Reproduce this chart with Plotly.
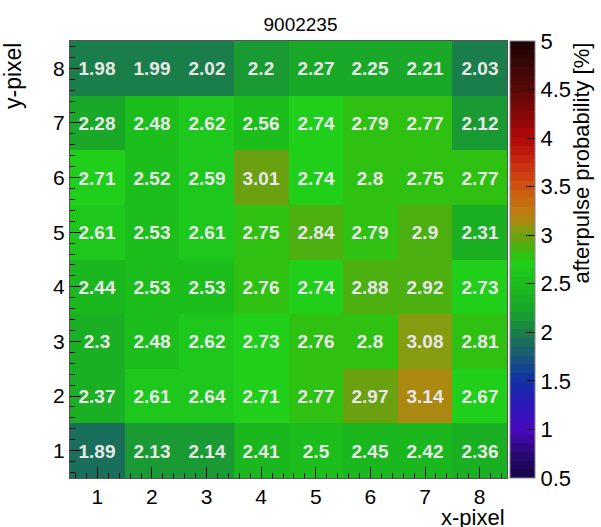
import plotly.graph_objects as go

# ---- data ----
x_pixels = [1, 2, 3, 4, 5, 6, 7, 8]
y_pixels = [1, 2, 3, 4, 5, 6, 7, 8]
# rows from y=1 (bottom) to y=8 (top)
row_y1 = [1.89, 2.13, 2.14, 2.41, 2.5, 2.45, 2.42, 2.36]
row_y2 = [2.37, 2.61, 2.64, 2.71, 2.77, 2.97, 3.14, 2.67]
row_y3 = [2.3, 2.48, 2.62, 2.73, 2.76, 2.8, 3.08, 2.81]
row_y4 = [2.44, 2.53, 2.53, 2.76, 2.74, 2.88, 2.92, 2.73]
row_y5 = [2.61, 2.53, 2.61, 2.75, 2.84, 2.79, 2.9, 2.31]
row_y6 = [2.71, 2.52, 2.59, 3.01, 2.74, 2.8, 2.75, 2.77]
row_y7 = [2.28, 2.48, 2.62, 2.56, 2.74, 2.79, 2.77, 2.12]
row_y8 = [1.98, 1.99, 2.02, 2.2, 2.27, 2.25, 2.21, 2.03]
z_values = [row_y1, row_y2, row_y3, row_y4, row_y5, row_y6, row_y7, row_y8]
cbar_ticks = [0.5, 1, 1.5, 2, 2.5, 3, 3.5, 4, 4.5, 5]
title_text = "9002235"

ZMIN, ZMAX, NBANDS = 0.5, 5.0, 50

# palette anchors (value, hex)
anchors = [
    (0.5, "#180448"), (0.75, "#2a0870"), (1.0, "#4a08c0"), (1.25, "#2c18b8"),
    (1.5, "#1030a8"), (1.75, "#1a5878"), (2.0, "#1a8048"), (2.25, "#1aa828"),
    (2.5, "#1cbc1c"), (2.7, "#1ed01a"), (2.8, "#30c012"), (2.97, "#6aa010"),
    (3.08, "#8a9a10"), (3.14, "#a88a10"), (3.25, "#c07a10"), (3.5, "#d05210"),
    (3.75, "#c82a10"), (4.0, "#b00808"), (4.5, "#5a0808"), (5.0, "#1a0404"),
]


def hex2rgb(h):
    h = h.lstrip("#")
    return [int(h[i:i + 2], 16) for i in (0, 2, 4)]


def color_at(v):
    for (v0, c0), (v1, c1) in zip(anchors[:-1], anchors[1:]):
        if v0 <= v <= v1:
            f = (v - v0) / (v1 - v0)
            a, b = hex2rgb(c0), hex2rgb(c1)
            r = [round(a[k] + (b[k] - a[k]) * f) for k in range(3)]
            return f"rgb({r[0]},{r[1]},{r[2]})"
    return anchors[-1][1]


colorscale = []
step = (ZMAX - ZMIN) / NBANDS
for i in range(NBANDS):
    c = color_at(ZMIN + (i + 0.5) * step)
    colorscale.append([i / NBANDS, c])
    colorscale.append([(i + 1) / NBANDS, c])

text_values = [[f"{v:g}" for v in row] for row in z_values]

FONT = "Liberation Sans, Arial, Helvetica, sans-serif"

fig = go.Figure(
    go.Heatmap(
        x=x_pixels, y=y_pixels, z=z_values,
        zmin=ZMIN, zmax=ZMAX, colorscale=colorscale,
        text=text_values, texttemplate="%{text}",
        textfont=dict(family=FONT, size=19, color="#e8e8e8", weight="bold"),
        hoverinfo="skip",
        colorbar=dict(
            x=1.007, xanchor="left", xref="paper",
            y=0.5, yanchor="middle", len=1.0, lenmode="fraction",
            thickness=25, outlinewidth=1, outlinecolor="#888888",
            tickvals=cbar_ticks, ticktext=[f"{t:g}" for t in cbar_ticks],
            ticks="inside", ticklen=9, tickcolor="#000000", tickwidth=1,
            tickfont=dict(family=FONT, size=22, color="#000000"),
            xpad=0, ypad=0,
        ),
    )
)

axis_common = dict(
    range=[0.5, 8.5], tickmode="array", tickvals=x_pixels,
    ticks="inside", ticklen=11, tickwidth=1, tickcolor="#000000",
    minor=dict(dtick=0.2, tick0=0, ticks="inside", ticklen=5,
               tickwidth=1, tickcolor="#000000"),
    showline=True, linecolor="#555555", linewidth=1, mirror=True,
    showgrid=False, zeroline=False,
    tickfont=dict(family=FONT, size=21, color="#000000"),
)

fig.update_layout(
    width=601, height=527,
    margin=dict(l=70, r=94, t=41, b=49),
    paper_bgcolor="white", plot_bgcolor="white",
    xaxis=dict(**axis_common),
    yaxis=dict(**axis_common),
    title=dict(text=title_text, x=0.5, xref="container", xanchor="center",
               y=1 - 24 / 527, yanchor="middle",
               font=dict(family=FONT, size=19, color="#000000")),
    annotations=[
        dict(text="x-pixel", xref="paper", yref="paper", x=1.0, y=(478 - 503) / 437,
             xanchor="right", yanchor="top", showarrow=False,
             font=dict(family=FONT, size=22, color="#000000")),
        dict(text="y-pixel", xref="paper", yref="paper", x=(13 - 70) / 437, y=1.0,
             xanchor="center", yanchor="top", textangle=-90, showarrow=False,
             font=dict(family=FONT, size=23, color="#000000")),
        dict(text="afterpulse probability [%]", xref="paper", yref="paper",
             x=(581 - 70) / 437, y=1.0, xanchor="center", yanchor="top",
             textangle=-90, showarrow=False,
             font=dict(family=FONT, size=22, color="#000000")),
    ],
)

fig.write_html(
    "out.html",
    config={"displayModeBar": False},
    post_script="document.body.style.margin='0';document.body.style.overflow='hidden';",
)
